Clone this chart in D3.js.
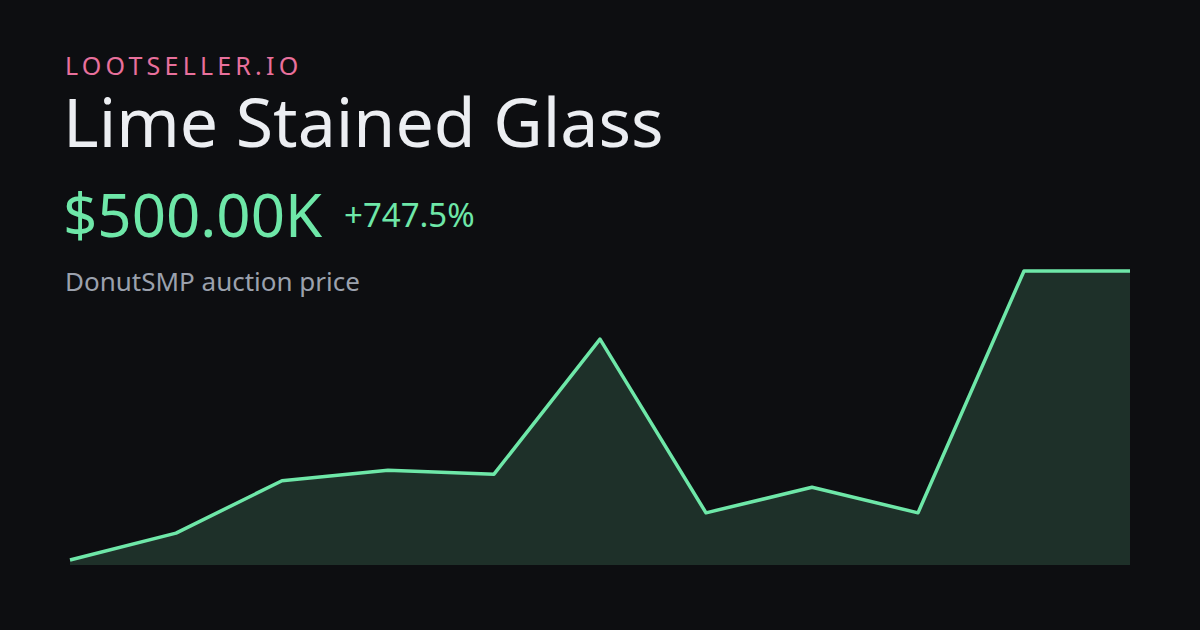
<!DOCTYPE html>
<html><head><meta charset="utf-8">
<script src="https://cdn.jsdelivr.net/npm/d3@7"></script>
<style>body{margin:0;background:#0d0e11;}svg{display:block;font-family:"Noto Sans",sans-serif;}</style>
</head><body><div></div>
<script>
// price in thousands, oldest to newest
const days = [0, 1, 2, 3, 4, 5, 6, 7, 8, 9, 10];
const prices = [59, 100, 180, 196, 190, 396, 131, 170, 131, 500, 500];

const w = 1200, h = 630;
const svg = d3.select("div").append("svg").attr("width", w).attr("height", h);
svg.append("rect").attr("width", w).attr("height", h).attr("fill", "#0d0e11");

svg.append("text").attr("x", 65).attr("y", 75).attr("fill", "#e8709c")
  .attr("font-size", 25).attr("letter-spacing", 4.2).text("LOOTSELLER.IO");
svg.append("text").attr("x", 63).attr("y", 147).attr("fill", "#eceef2")
  .attr("font-size", 68).text("Lime Stained Glass");
svg.append("text").attr("x", 63).attr("y", 237).attr("fill", "#6ee7a8")
  .attr("font-size", 60).text("$500.00K");
svg.append("text").attr("x", 344).attr("y", 227).attr("fill", "#6ee7a8")
  .attr("font-size", 33).text("+747.5%");
svg.append("text").attr("x", 65).attr("y", 291).attr("fill", "#9ba1ad")
  .attr("font-size", 26).text("DonutSMP auction price");

const x = d3.scaleLinear().domain([0, 10]).range([70, 1130]);
const y = d3.scaleLinear().domain([51.4, 500]).range([565, 271]);

const pts = days.map((d, i) => [d, prices[i]]);
svg.append("path").datum(pts)
  .attr("d", d3.area().x(d => x(d[0])).y0(y(51.4)).y1(d => y(d[1])))
  .attr("fill", "#1e3029");
svg.append("path").datum(pts)
  .attr("d", d3.line().x(d => x(d[0])).y(d => y(d[1])))
  .attr("fill", "none").attr("stroke", "#6ee7a8").attr("stroke-width", 3.5)
  .attr("stroke-linejoin", "round");
</script></body></html>
